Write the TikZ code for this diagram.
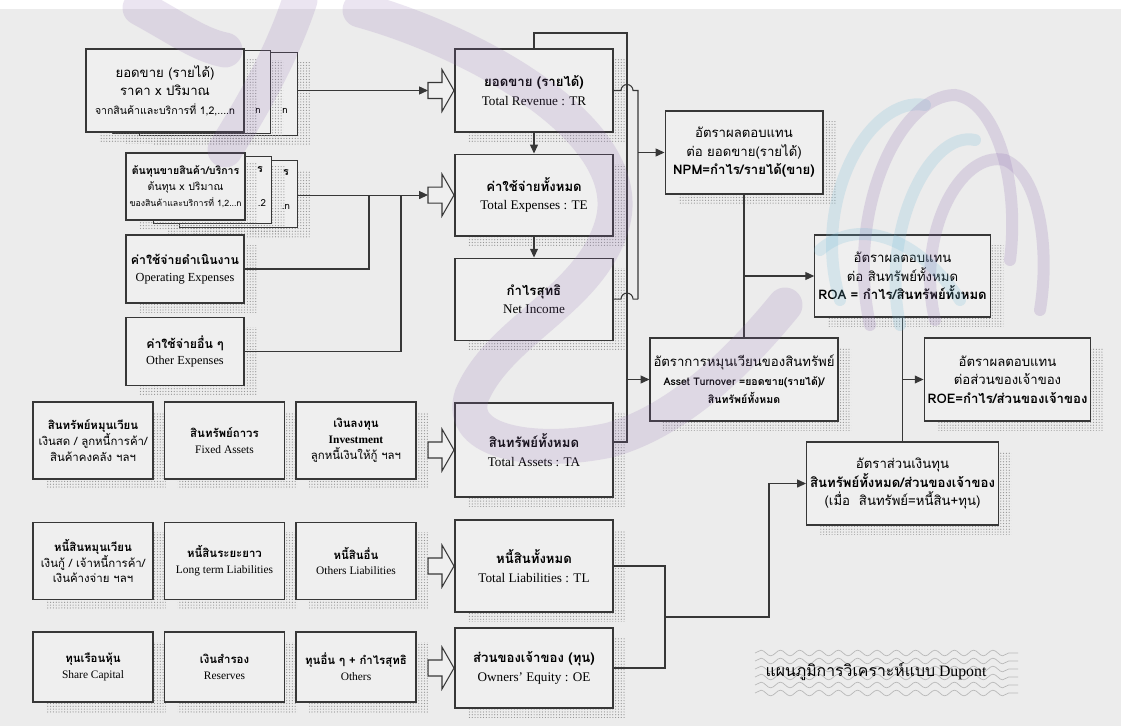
\documentclass[tikz,border=0pt]{standalone}
\usepackage{fontspec}
\setmainfont{Liberation Serif}
\newfontfamily\thai[Script=Thai]{Loma}
\usetikzlibrary{arrows.meta, positioning, calc, shadows, patterns.meta, decorations.pathmorphing}
\definecolor{PageGrey}{RGB}{236,236,236}
\definecolor{BoxFill}{RGB}{239,239,239}
\definecolor{EdgeDark}{RGB}{55,55,55}
\definecolor{MarkPurple}{RGB}{140,105,175}
\definecolor{MarkBlue}{RGB}{110,185,215}

\tikzset{
  dotshadow/.style={general shadow={shadow xshift=0.26cm, shadow yshift=-0.2cm,
      pattern={Dots[distance=1.6pt, radius=0.35pt]}, pattern color=gray!85}},
  box/.style={draw=EdgeDark, line width=0.6pt, fill=BoxFill, dotshadow, align=center,
      inner sep=2pt, font=\fontsize{7.5}{10.5}\selectfont},
  mainbox/.style={box, minimum width=3.16cm},
  sidebox/.style={box, minimum width=2.36cm, minimum height=1.36cm, font=\fontsize{7}{9.5}\selectfont},
  smallbox/.style={box, minimum width=2.4cm, minimum height=1.54cm, font=\fontsize{6.5}{9}\selectfont},
  frag/.style={inner sep=0pt, font=\thai\fontsize{5.5}{7}\selectfont},
  fatarrow/.pic={\draw[draw=EdgeDark, fill=BoxFill, line width=0.6pt]
      (0,-8) -- (14,-8) -- (14,-21) -- (26,0) -- (14,21) -- (14,8) -- (0,8) -- cycle;},
  link/.style={draw=EdgeDark, line width=0.6pt},
  feed/.style={link, -{Triangle[length=5pt, width=4.5pt]}},
  watermark/.style={line width=0.7cm, draw opacity=0.17, line cap=round},
  ribbon/.style={line width=0.24cm, draw opacity=0.2, line cap=round},
}

\begin{document}
\begin{tikzpicture}[x=0.02cm, y=-0.02cm]
  \fill[PageGrey] (0,0) rectangle (1121,726);
  \fill[white] (0,0) rectangle (1121,9);
  \useasboundingbox (0,0) rectangle (1121,726);

  % revenue and cost stacks
  \node[box, minimum width=3.16cm, minimum height=1.66cm] (s1c) at (218.5,94) {};
  \node[box, minimum width=3.16cm, minimum height=1.66cm] (s1b) at (191.5,92) {};
  \node[box, minimum width=3.16cm, minimum height=1.66cm] (s1a) at (165,90.5) {\thai ยอดขาย (รายได้)\\ \thai ราคา x ปริมาณ\\ \thai\fontsize{6}{9}\selectfont จากสินค้าและบริการที่ 1,2,....n};
  \node[frag] (f1) at (258,111) {n};
  \node[frag] (f2) at (285,111) {n};

  \node[sidebox, minimum height=1.34cm] (s2c) at (238.5,194) {};
  \node[sidebox, minimum height=1.34cm] (s2b) at (212.5,190) {};
  \node[sidebox, minimum height=1.34cm, font=\fontsize{6}{9}\selectfont] (s2a) at (185.5,186.5) {\thai\bfseries ต้นทุนขายสินค้า/บริการ\\ \thai ต้นทุน x ปริมาณ\\ \thai\fontsize{5}{9}\selectfont ของสินค้าและบริการที่ 1,2...n};
  \node[frag, font=\thai\bfseries\fontsize{6}{7}\selectfont] (f3) at (260,170) {ร};
  \node[frag] (f4) at (262,203) {.2};
  \node[frag, font=\thai\bfseries\fontsize{6}{7}\selectfont] (f5) at (286,173) {ร};
  \node[frag] (f6) at (286,207) {.n};

  \node[sidebox] (opex) at (185,269) {\thai\bfseries ค่าใช้จ่ายดำเนินงาน\\ Operating Expenses};
  \node[sidebox] (othex) at (185,351.5) {\thai\bfseries ค่าใช้จ่ายอื่น ๆ\\ Other Expenses};

  % main column
  \node[mainbox, minimum height=1.66cm] (tr) at (534,90.5) {\thai\bfseries ยอดขาย (รายได้)\\ Total Revenue : TR};
  \node[mainbox, minimum height=1.64cm, below=0.42cm of tr] (te) {\thai\bfseries ค่าใช้จ่ายทั้งหมด\\ Total Expenses : TE};
  \node[mainbox, minimum height=1.64cm, below=0.42cm of te] (ni) {\thai\bfseries กำไรสุทธิ\\ Net Income};
  \node[mainbox, minimum height=1.88cm] (ta) at (534,450) {\thai\bfseries สินทรัพย์ทั้งหมด\\ Total Assets : TA};
  \node[mainbox, minimum height=1.84cm] (tl) at (534,566) {\thai\bfseries หนี้สินทั้งหมด\\ Total Liabilities : TL};
  \node[mainbox, minimum height=1.6cm] (oe) at (534,668) {\thai\bfseries ส่วนของเจ้าของ (ทุน)\\ Owners' Equity : OE};

  \foreach \target in {tr, te, ta, tl, oe}{
    \coordinate (\target a) at ($(\target.west)+(-26.5,0)$);
    \pic at (\target a) {fatarrow};
  }

  % balance sheet items
  \node[smallbox] (cura) at (93,440.5) {\thai\bfseries สินทรัพย์หมุนเวียน\\ \thai เงินสด / ลูกหนี้การค้า/\\ \thai สินค้าคงคลัง ฯลฯ};
  \node[smallbox] (fixa) at (224.5,440.5) {\thai\bfseries สินทรัพย์ถาวร\\ Fixed Assets};
  \node[smallbox] (inva) at (356,440.5) {\thai\bfseries เงินลงทุน\\ \bfseries Investment\\ \thai ลูกหนี้เงินให้กู้ ฯลฯ};
  \node[smallbox] (curl) at (93,561) {\thai\bfseries หนี้สินหมุนเวียน\\ \thai เงินกู้ / เจ้าหนี้การค้า/\\ \thai เงินค้างจ่าย ฯลฯ};
  \node[smallbox] (ltl) at (224.5,561) {\thai\bfseries หนี้สินระยะยาว\\ Long term Liabilities};
  \node[smallbox] (othl) at (356,561) {\thai\bfseries หนี้สินอื่น\\ Others Liabilities};
  \node[smallbox, minimum height=1.4cm] (shc) at (93,667) {\thai\bfseries ทุนเรือนหุ้น\\ Share Capital};
  \node[smallbox, minimum height=1.4cm] (resv) at (224.5,667) {\thai\bfseries เงินสำรอง\\ Reserves};
  \node[smallbox, minimum height=1.4cm] (othc) at (356,667) {\thai\bfseries ทุนอื่น ๆ + กำไรสุทธิ\\ Others};

  % ratios
  \node[mainbox, minimum height=1.66cm] (npm) at (744,152.5) {\thai อัตราผลตอบแทน\\ \thai ต่อ ยอดขาย(รายได้)\\ \thai\bfseries NPM=กำไร/รายได้(ขาย)};
  \node[mainbox, minimum height=1.66cm] (atr) at (744,379.5) {\thai อัตราการหมุนเวียนของสินทรัพย์\\ \thai\bfseries\fontsize{6}{8.5}\selectfont Asset Turnover =ยอดขาย(รายได้)/\\ \thai\bfseries\fontsize{6}{8.5}\selectfont สินทรัพย์ทั้งหมด};
  \node[mainbox, minimum height=1.64cm] (roa) at (902.5,276) {\thai อัตราผลตอบแทน\\ \thai ต่อ สินทรัพย์ทั้งหมด\\ \thai\bfseries ROA = กำไร/สินทรัพย์ทั้งหมด};
  \node[mainbox, minimum height=1.66cm] (roe) at (1007.5,379.5) {\thai อัตราผลตอบแทน\\ \thai ต่อส่วนของเจ้าของ\\ \thai\bfseries ROE=กำไร/ส่วนของเจ้าของ};
  \node[mainbox, minimum height=1.66cm] (em) at (902.5,483.5) {\thai อัตราส่วนเงินทุน\\ \thai\bfseries สินทรัพย์ทั้งหมด/ส่วนของเจ้าของ\\ \thai (เมื่อ~~สินทรัพย์=หนี้สิน+ทุน)};

  % inputs
  \draw[feed] (tra -| s1c.east) -- (tra);
  \draw[feed] (tea -| s2c.east) -- (tea);
  \draw[link] (opex.east) -| ($(tea)+(-59,0)$);
  \draw[link] (othex.east) -| ($(tea)+(-27,0)$);
  \draw[feed] (tr) -- (te);
  \draw[feed] (te) -- (ni);

  % revenue and assets to turnover
  \coordinate (turn) at (627,33);
  \coordinate (rise) at (638,0);
  \coordinate (taout) at ($(ta.east)+(0,-8)$);
  \draw[link] (tr.north) |- (turn) -- (turn |- taout) -- (taout);
  \draw[feed] (turn |- atr.west) -- (atr.west);

  % revenue and income to margin
  \draw[link] (tr.east) -- ($(tr.east -| turn)+(-6,0)$) arc[start angle=180, end angle=0, radius=0.12cm]
    -- (tr.east -| rise) -- (ni.east -| rise);
  \draw[link] (ni.east) -- ($(ni.east -| turn)+(-6,0)$) arc[start angle=180, end angle=0, radius=0.12cm]
    -- (ni.east -| rise);
  \draw[feed] (npm.west -| rise) -- (npm.west);

  \draw[link] (npm) -- (atr);
  \draw[feed] (npm.south |- roa.west) -- (roa.west);
  \draw[link] (roa) -- (em);
  \draw[feed] (roa.south |- roe.west) -- (roe.west);

  % liabilities and equity to multiplier
  \coordinate (join) at (665,617);
  \coordinate (bend) at (769,617);
  \draw[link] (tl.east) -- (tl.east -| join) -- (oe.east -| join) -- (oe.east);
  \draw[feed] (join) -- (bend) |- (em.west);

  % caption
  \foreach \yy in {653,661,...,697}
    \draw[gray!55, line width=0.4pt, decorate, decoration={snake, amplitude=1.6pt, segment length=11pt}] (755,\yy) -- (1018,\yy);
  \node[font=\fontsize{9}{11}\selectfont] (title) at (876,672) {{\thai แผนภูมิการวิเคราะห์แบบ} Dupont};

  % faint watermark over the chart
  \draw[watermark, MarkPurple] (140,8) .. controls (180,30) and (200,45) .. (225,50);
  \draw[watermark, MarkPurple] (300,0) .. controls (280,60) and (250,110) .. (225,150);
  \draw[watermark, MarkPurple] (360,10) .. controls (470,40) and (640,130) .. (612,225)
    .. controls (590,300) and (500,330) .. (472,395) .. controls (455,445) and (540,455) .. (610,440)
    .. controls (680,420) and (740,360) .. (785,305);
  \draw[ribbon, MarkBlue] (840,300) .. controls (810,200) and (870,95) .. (925,105);
  \draw[ribbon, MarkPurple] (870,325) .. controls (845,210) and (900,95) .. (955,95) .. controls (995,100) and (1020,180) .. (1010,260);
  \draw[ribbon, MarkBlue] (900,325) .. controls (880,230) and (930,130) .. (975,140);
  \draw[ribbon, MarkPurple] (935,320) .. controls (915,235) and (960,150) .. (1005,160) .. controls (1040,175) and (1050,250) .. (1040,310);
  \draw[ribbon, MarkBlue] (820,250) .. controls (860,215) and (920,240) .. (960,300);
\end{tikzpicture}
\end{document}
